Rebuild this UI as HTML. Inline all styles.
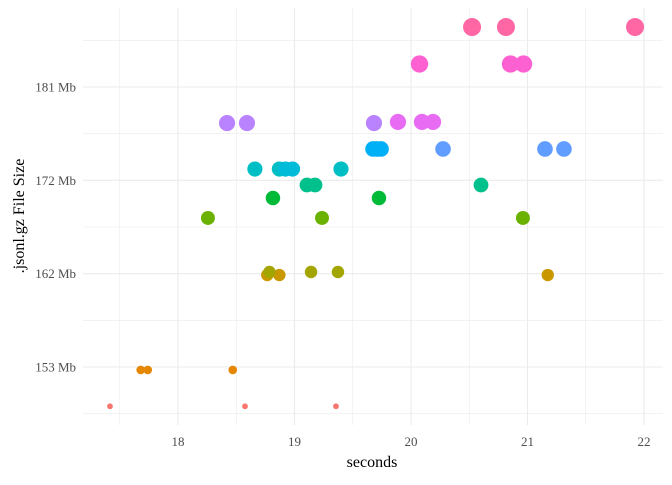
<!DOCTYPE html>
<html><head><meta charset="utf-8"><style>
body{margin:0;background:#fff}
svg text{font-family:"Liberation Serif",serif;}
</style></head><body>
<svg width="672" height="480">
<g id="grid"></g>
<g id="pts"></g>
<g id="axes"></g>
<text x="372" y="467" text-anchor="middle" font-size="16" fill="#000">seconds</text>
<text transform="translate(24,216) rotate(-90)" text-anchor="middle" font-size="16" fill="#000">.jsonl.gz File Size</text>
</svg>
<script>
const xTicks=[18,19,20,21,22];
const yTickVals=[152.6,162.1,171.6,181.1];
const yTickLabels=["153 Mb","162 Mb","172 Mb","181 Mb"];
const seconds=[17.416,18.575,19.356, 17.68,17.74,18.47, 18.766,18.87,21.174, 18.785,19.142,19.373, 18.257,19.236,20.961, 18.815,19.725, 19.107,19.176,20.601, 18.66,18.87,19.399, 18.923,18.983, 19.674,19.708,19.743,20.275,21.15,21.313, 18.421,18.592,19.682, 19.888,20.094,20.189, 20.073,20.854,20.966, 20.524,20.815,21.923];
const sizeMb=[148.6,148.6,148.6, 152.3,152.3,152.3, 161.96,161.96,161.96, 162.27,162.27,162.27, 167.77,167.77,167.77, 169.8,169.8, 171.12,171.12,171.12, 172.75,172.75,172.75, 172.75,172.75, 174.79,174.79,174.79,174.79,174.79,174.79, 177.43,177.43,177.43, 177.54,177.54,177.54, 183.44,183.44,183.44, 187.2,187.2,187.2];
const group=[0,0,0,1,1,1,2,2,2,3,3,3,4,4,4,5,5,6,6,6,7,7,7,8,8,9,9,9,10,10,10,11,11,11,12,12,12,13,13,13,14,14,14];
const palette=["#F8766D","#E58700","#C99800","#A3A500","#6BB100","#00BA38","#00C08B","#00BFC4","#00BCD8","#00B0F6","#619CFF","#B983FF","#E76BF3","#FD61D1","#FF67A4"];
const X=s=>178+(s-18)*116.5;
const Y=v=>367-(v-152.6)*9.825;
const R=v=>2+7*Math.sqrt(Math.max(0,v-148)/39);
const NS="http://www.w3.org/2000/svg";
function mk(t,a,p){const e=document.createElementNS(NS,t);for(const k in a)e.setAttribute(k,a[k]);p.appendChild(e);return e;}
const grid=document.getElementById('grid'),pts=document.getElementById('pts'),axes=document.getElementById('axes');
const L=83,Rt=663,T=8,B=425;
const step=yTickVals[1]-yTickVals[0];
for(let v=yTickVals[0]-step/2;v<=yTickVals[yTickVals.length-1]+step/2+0.01;v+=step/2){
  const major=yTickVals.some(t=>Math.abs(t-v)<0.01);
  const l=mk('line',{x1:L,x2:Rt,y1:Y(v),y2:Y(v),stroke:'#EBEBEB','stroke-width':major?1.1:0.6},grid);
  
  
}
for(let s=xTicks[0]-0.5;s<=xTicks[xTicks.length-1]+0.01;s+=0.5){
  const major=Number.isInteger(s);
  const l=mk('line',{x1:X(s),x2:X(s),y1:T,y2:B,stroke:'#EBEBEB','stroke-width':major?1.1:0.6},grid);
  
  
}
seconds.forEach((s,i)=>{
  const c=mk('circle',{cx:X(s),cy:Y(sizeMb[i]),r:R(sizeMb[i]),fill:palette[group[i]]},pts);
  
  
});
xTicks.forEach(s=>{
  const t=mk('text',{x:X(s),y:446,'text-anchor':'middle','font-size':13,fill:'#4D4D4D'},axes);
  t.textContent=s;
  
  
});
yTickVals.forEach((v,i)=>{
  const t=mk('text',{x:76,y:Y(v)+4.5,'text-anchor':'end','font-size':13,fill:'#4D4D4D'},axes);
  t.textContent=yTickLabels[i];
  
  
});
</script>
</body></html>
